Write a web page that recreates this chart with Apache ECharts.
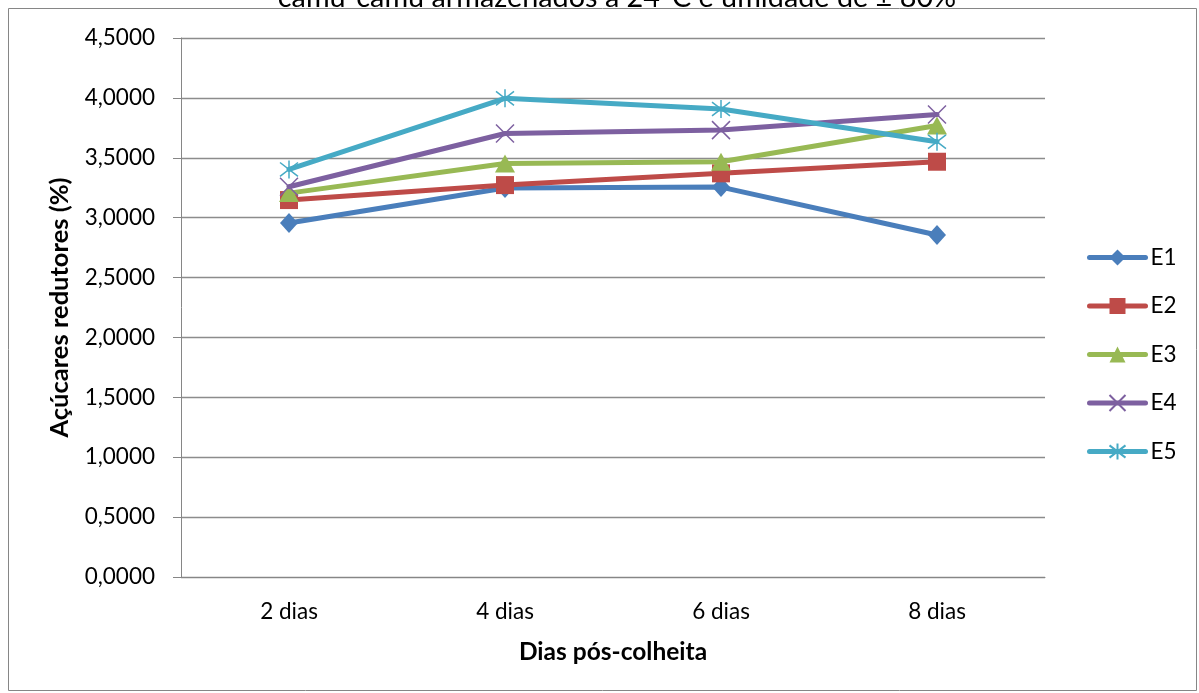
<!DOCTYPE html>
<html>
<head>
<meta charset="utf-8">
<script src="https://cdn.jsdelivr.net/npm/echarts@6/dist/echarts.min.js"></script>
<style>
  html, body { margin: 0; padding: 0; background: #fff; }
  #chart { width: 1199px; height: 693px; }
</style>
</head>
<body>
<div id="chart"></div>
<script>
// Reducing sugars (%) in camu-camu by days after harvest
const categories = ['2 dias', '4 dias', '6 dias', '8 dias'];
const E1 = [2.955, 3.248, 3.255, 2.855];
const E2 = [3.147, 3.272, 3.370, 3.467];
const E3 = [3.205, 3.453, 3.467, 3.770];
const E4 = [3.258, 3.703, 3.731, 3.862];
const E5 = [3.403, 3.996, 3.907, 3.634];
const seriesNames = ['E1', 'E2', 'E3', 'E4', 'E5'];
const colors = ['#4A7EBB', '#BE4B48', '#98B954', '#7D60A0', '#46AAC5'];
const titleText = 'camu-camu armazenados a 24°C e umidade de ± 80%';

const FONT = 'Lato, "Open Sans", sans-serif';
const FS = 22.5;
const crossPath = 'path://M0,0L10,10M10,0L0,10';
const starPath = 'path://M0,0L10,10M10,0L0,10M5,-1.5L5,11.5';

const symbols = [
  { symbol: 'diamond', size: [18, 20], stroke: 0 },
  { symbol: 'rect', size: 18, stroke: 0 },
  { symbol: 'triangle', size: [20, 18], stroke: 0 },
  { symbol: crossPath, size: 18, stroke: 1.5 },
  { symbol: starPath, size: 18, stroke: 1.5 }
];
const values = [E1, E2, E3, E4, E5];

const chart = echarts.init(document.getElementById('chart'), null, { renderer: 'canvas' });

chart.setOption({
  animation: false,
  backgroundColor: '#ffffff',
  textStyle: { fontFamily: FONT },
  grid: { left: 181, right: 154, top: 38, bottom: 116, containLabel: false },
  legend: {
    orient: 'vertical',
    left: 1082,
    top: 241,
    itemWidth: 56,
    itemHeight: 20,
    itemGap: 25.5,
    data: seriesNames,
    lineStyle: { width: 5, cap: 'round' },
    textStyle: { fontFamily: FONT, fontSize: FS, color: '#000' }
  },
  xAxis: {
    type: 'category',
    data: categories,
    boundaryGap: true,
    name: 'Dias pós-colheita',
    nameLocation: 'middle',
    nameGap: 63,
    nameTextStyle: { fontFamily: FONT, fontSize: 24.5, fontWeight: 'bold', color: '#000' },
    axisLine: { show: true, lineStyle: { color: '#868686', width: 1 } },
    axisTick: { show: false },
    axisLabel: { fontFamily: FONT, fontSize: FS, color: '#000', margin: 23 },
    splitLine: { show: false }
  },
  yAxis: {
    type: 'value',
    min: 0,
    max: 4.5,
    interval: 0.5,
    name: 'Açúcares redutores (%)',
    nameLocation: 'middle',
    nameGap: 108,
    nameTextStyle: { fontFamily: FONT, fontSize: 25.5, fontWeight: 'bold', color: '#000' },
    axisLine: { show: true, lineStyle: { color: '#868686', width: 1 } },
    axisTick: { show: true, length: 8, lineStyle: { color: '#868686' } },
    axisLabel: {
      fontFamily: FONT, fontSize: FS, color: '#000', margin: 26,
      formatter: v => v.toFixed(4).replace('.', ',')
    },
    splitLine: { show: true, lineStyle: { color: '#8c8c8c', width: 1.3 } }
  },
  graphic: [
    {
      type: 'rect',
      shape: { x: 8.5, y: 8.5, width: 1188, height: 682 },
      style: { fill: 'none', stroke: '#868686', lineWidth: 1 },
      silent: true
    },
    {
      type: 'text',
      x: 617,
      y: 12,
      style: {
        text: titleText,
        fontFamily: FONT,
        fontSize: 28.8,
        fill: '#000',
        align: 'center',
        verticalAlign: 'bottom'
      },
      silent: true
    }
  ],
  series: seriesNames.map((name, i) => ({
    name: name,
    type: 'line',
    data: values[i],
    symbol: symbols[i].symbol,
    symbolSize: symbols[i].size,
    showAllSymbol: true,
    color: colors[i],
    lineStyle: { color: colors[i], width: 5, cap: 'round', join: 'round' },
    itemStyle: {
      color: colors[i],
      borderColor: colors[i],
      borderWidth: symbols[i].stroke
    },
    z: 2 + i
  }))
});
</script>
</body>
</html>
